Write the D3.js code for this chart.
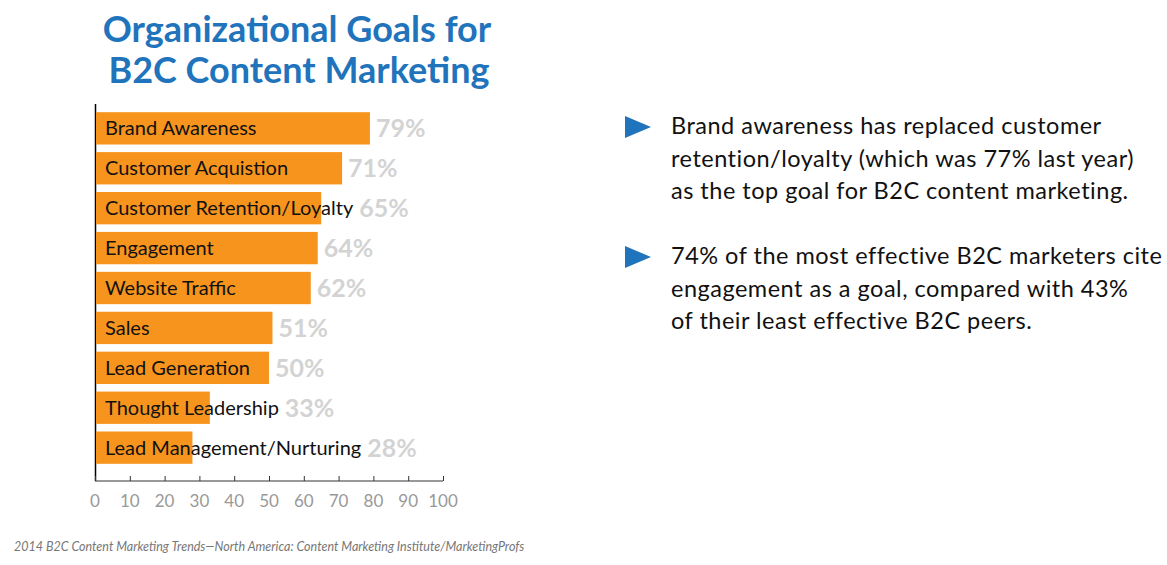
<!DOCTYPE html>
<html><head><meta charset="utf-8">
<script src="https://cdn.jsdelivr.net/npm/d3@7"></script>
<style>body{margin:0;background:#fff}</style></head>
<body><svg id="c" width="1167" height="565"></svg>
<script>
const categories=["Brand Awareness","Customer Acquistion","Customer Retention/Loyalty","Engagement","Website Traffic","Sales","Lead Generation","Thought Leadership","Lead Management/Nurturing"];
const values=[79,71,65,64,62,51,50,33,28];
const ticks=[0,10,20,30,40,50,60,70,80,90,100];
const svg=d3.select("#c");
const F="Lato, 'Open Sans', sans-serif";
const x=d3.scaleLinear().domain([0,100]).range([95,443]);
const y=d3.scaleBand().domain(categories).range([109,467]).paddingInner(0.19).paddingOuter(0.08);
svg.append("text").attr("x",297).attr("y",42).attr("text-anchor","middle").attr("font-family",F).attr("font-weight",700).attr("font-size",36).attr("fill","#1f74bb").text("Organizational Goals for");
svg.append("text").attr("x",299).attr("y",83).attr("text-anchor","middle").attr("font-family",F).attr("font-weight",700).attr("font-size",36).attr("fill","#1f74bb").text("B2C Content Marketing");
svg.append("line").attr("x1",95.5).attr("x2",95.5).attr("y1",104).attr("y2",481).attr("stroke","#000").attr("stroke-width",1.5);
const ax=svg.append("g").attr("transform","translate(0,481)").call(d3.axisTop(x).tickValues(ticks).tickSize(5).tickFormat(""));
ax.selectAll("path,line").attr("stroke","#333");
ax.select(".domain").attr("d","M95,0H443");
svg.selectAll(".tl").data(ticks).join("text").attr("x",d=>x(d)).attr("y",507).attr("text-anchor","middle").attr("font-family",F).attr("font-size",17).attr("fill","#999").text(d=>d);
const g=svg.selectAll(".row").data(categories).join("g");
g.append("rect").attr("x",x(0)+1).attr("y",d=>y(d)).attr("width",(d,i)=>x(values[i])-x(0)-1).attr("height",y.bandwidth()).attr("fill","#f7941d");
const lbl=g.append("text").attr("x",105).attr("y",d=>y(d)+y.bandwidth()/2+7).attr("font-family",F).attr("font-size",20).attr("fill","#111").text(d=>d);
lbl.each(function(d,i){
  const end=Math.max(x(values[i]),105+this.getComputedTextLength());
  svg.append("text").attr("x",end+6).attr("y",y(d)+y.bandwidth()/2+9).attr("font-family",F).attr("font-weight",700).attr("font-size",25).attr("fill","#d3d3d3").text(values[i]+"%");
});
const bullets=[["Brand awareness has replaced customer","retention/loyalty (which was 77% last year)","as the top goal for B2C content marketing."],["74% of the most effective B2C marketers cite","engagement as a goal, compared with 43%","of their least effective B2C peers."]];
const by=[134,264];
bullets.forEach((b,k)=>{
  svg.append("path").attr("d",`M625,${by[k]-18}L651,${by[k]-7}L625,${by[k]+4}Z`).attr("fill","#1f74bb");
  b.forEach((t,j)=>svg.append("text").attr("x",671).attr("y",by[k]+j*32.5).attr("font-family",F).attr("font-size",23.5).attr("letter-spacing",0.5).attr("fill","#111").text(t));
});
svg.append("text").attr("x",14).attr("y",551).attr("font-family",F).attr("font-style","italic").attr("font-size",12.5).attr("fill","#777").text("2014 B2C Content Marketing Trends—North America: Content Marketing Institute/MarketingProfs");
</script></body></html>
